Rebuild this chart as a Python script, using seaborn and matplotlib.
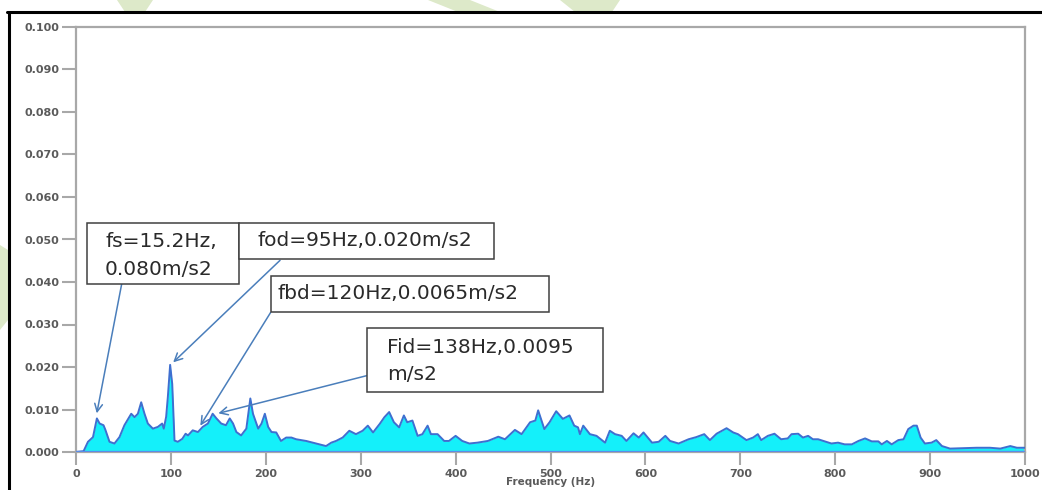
import matplotlib
matplotlib.use("Agg")
import matplotlib.pyplot as plt
import matplotlib.patches as mpatches
from matplotlib.lines import Line2D
from matplotlib.ticker import FormatStrFormatter, MultipleLocator
import seaborn as sns
import pandas as pd

# ── Spectrum (Hz, m/s2) ───────────────────────────────────
freq_low = [0, 8, 12.6, 17.9, 22, 24.9, 29, 31, 35.3, 40.5, 45.8, 51, 58.2, 61.7, 65.2,
            68.7, 72.2, 75.7, 81, 86.2, 90.8, 92.5, 95, 96.8, 99.2, 101.4, 103.8, 107.3,
            112, 115.5, 118, 123, 128.5, 133.5, 139, 144, 148, 153, 158, 162, 165.5, 169,
            174, 179.5, 183.7, 186.5, 192, 195.5, 199]
acc_low = [0, 0.0002, 0.0024, 0.0035, 0.0079, 0.0067, 0.0063, 0.0052, 0.0024, 0.0020,
           0.0035, 0.0063, 0.0090, 0.0082, 0.0090, 0.0117, 0.0090, 0.0067, 0.0055, 0.0059,
           0.0067, 0.0055, 0.0083, 0.0130, 0.0205, 0.0160, 0.0027, 0.0024, 0.0031, 0.0043,
           0.0039, 0.0051, 0.0047, 0.0059, 0.0067, 0.0090, 0.0079, 0.0067, 0.0063, 0.0079,
           0.0067, 0.0047, 0.0039, 0.0055, 0.0126, 0.0090, 0.0055, 0.0067, 0.0090]

freq_mid = [202.5, 206, 211, 216, 221.5, 227, 232, 242.5, 249.5, 256.5, 263.5, 269, 274,
            281, 288, 295, 302, 307.5, 313, 320, 325, 330, 335, 340.5, 345.5, 349, 354.5,
            360, 365, 370.5, 374, 381, 388, 393, 400, 407, 414.5, 423, 434, 445, 452,
            462.5, 469.5, 478.5, 484, 487, 493.5, 499]
acc_mid = [0.0059, 0.0047, 0.0046, 0.0026, 0.0034, 0.0034, 0.0030, 0.0026, 0.0022, 0.0018,
           0.0014, 0.0022, 0.0026, 0.0034, 0.0050, 0.0042, 0.0050, 0.0062, 0.0046, 0.0066,
           0.0082, 0.0094, 0.0070, 0.0058, 0.0086, 0.0070, 0.0074, 0.0038, 0.0042, 0.0062,
           0.0042, 0.0042, 0.0026, 0.0026, 0.0038, 0.0026, 0.0020, 0.0022, 0.0026, 0.0036,
           0.0030, 0.0052, 0.0042, 0.0070, 0.0074, 0.0098, 0.0054, 0.0070]

freq_high = [506, 513, 520, 525, 529, 531, 534.5, 541.5, 548.5, 557.5, 562.5, 568, 575, 580,
             587.5, 593, 598, 607, 614, 621, 626, 635, 645.5, 653.5, 662, 668, 675, 685.5,
             692.5, 697.5, 706.5, 713.5, 718.5, 722, 729, 736, 743, 750, 754, 761, 766,
             771.5, 776.5, 782, 789, 796, 803, 810, 817.5, 824.5, 831.5, 838.5, 845.5, 849,
             854.5, 859.5, 866.5, 872, 877, 882.5, 886, 890, 894.5, 901.5, 906.5, 912.5,
             921, 935, 949, 963, 974, 984.5, 991.5, 1000]
acc_high = [0.0096, 0.0078, 0.0086, 0.0062, 0.0058, 0.0042, 0.0062, 0.0042, 0.0038, 0.0022,
            0.0050, 0.0042, 0.0038, 0.0026, 0.0044, 0.0034, 0.0046, 0.0022, 0.0024, 0.0038,
            0.0026, 0.0020, 0.0030, 0.0035, 0.0042, 0.0028, 0.0043, 0.0056, 0.0046, 0.0042,
            0.0028, 0.0034, 0.0042, 0.0028, 0.0038, 0.0043, 0.0030, 0.0032, 0.0042, 0.0043,
            0.0034, 0.0038, 0.0030, 0.0030, 0.0025, 0.0020, 0.0022, 0.0018, 0.0018, 0.0026,
            0.0032, 0.0025, 0.0025, 0.0018, 0.0026, 0.0018, 0.0028, 0.0030, 0.0054, 0.0062,
            0.0062, 0.0034, 0.0020, 0.0022, 0.0028, 0.0014, 0.0008, 0.0009, 0.0010, 0.0010,
            0.0008, 0.0014, 0.0010, 0.0010]

# annotation texts and the points their arrows hit
note_lines = [["fs=15.2Hz,", "0.080m/s2"],
              ["fod=95Hz,0.020m/s2"],
              ["fbd=120Hz,0.0065m/s2"],
              ["Fid=138Hz,0.0095", "m/s2"]]
note_target_hz = [21.9, 102.4, 131, 150]
note_target_acc = [0.0091, 0.0211, 0.0062, 0.0091]

df = pd.DataFrame({"Frequency": freq_low + freq_mid + freq_high,
                   "Accel": acc_low + acc_mid + acc_high})

# ── Style ────────────────────────────────────────────────
sns.set_theme(style="white")
plt.rcParams["font.family"] = ["DejaVu Sans"]

W, H = 1042, 490
fig = plt.figure(figsize=(W / 100, H / 100), dpi=100)
fig.patch.set_facecolor("white")


def fx(x):
    return x / W


def fy(y):
    return 1 - y / H


# green watermark bits peeking out around the screenshot
wm = "#dde9c9"
for poly in [[(117, 0), (153, 0), (145, 12), (125, 12)],
             [(428, 0), (470, 0), (500, 12), (458, 12)],
             [(560, 0), (620, 0), (612, 12), (575, 12)],
             [(0, 245), (8, 250), (8, 320), (0, 330)]]:
    fig.patches.append(mpatches.Polygon([(fx(a), fy(b)) for a, b in poly], closed=True,
                                        transform=fig.transFigure, facecolor=wm,
                                        edgecolor="none", zorder=0))

# black frame of the screenshot
fig.add_artist(Line2D([fx(7), 1], [fy(12), fy(12)], color="black", lw=2.2,
                      transform=fig.transFigure))
fig.add_artist(Line2D([fx(8.5), fx(8.5)], [fy(12), 0], color="black", lw=2.2,
                      transform=fig.transFigure))

ax = fig.add_axes([fx(76), fy(452), fx(1025) - fx(76), fy(27) - fy(452)])

# ── Spectrum ─────────────────────────────────────────────
ax.fill_between(df["Frequency"], df["Accel"], 0, color="#14f0fa", lw=0, zorder=2)
sns.lineplot(data=df, x="Frequency", y="Accel", ax=ax, color="#3f6fd0", lw=1.4,
             zorder=3)
ax.axhline(0, color="#5b8ce8", lw=1.6, zorder=3)

ax.set_xlim(0, 1000)
ax.set_ylim(0, 0.100)
ax.xaxis.set_major_locator(MultipleLocator(100))
ax.yaxis.set_major_locator(MultipleLocator(0.010))
ax.yaxis.set_major_formatter(FormatStrFormatter("%.3f"))

gray = "#a8a8a8"
for side in ["left", "top", "right", "bottom"]:
    ax.spines[side].set_color(gray)
    ax.spines[side].set_linewidth(1.6)
ax.tick_params(axis="both", direction="out", length=9, width=1.5, color=gray,
               labelsize=8, labelcolor="#5a5a5a", pad=3, left=True, bottom=True)
ax.tick_params(axis="y", length=10, pad=2)
for lab in ax.get_xticklabels() + ax.get_yticklabels():
    lab.set_fontweight("bold")
ax.set_xlabel("Frequency (Hz)", fontsize=7.5, fontweight="bold", color="#5a5a5a",
              labelpad=-1)
ax.set_ylabel("")

# ── Annotation boxes ─────────────────────────────────────
# box corners (Hz, m/s2): x0, x1, y_bottom, y_top
boxes = [(11.6, 172, 0.0396, 0.0538),
         (172, 440, 0.0455, 0.0538),
         (205, 498, 0.0330, 0.0415),
         (307, 555, 0.0142, 0.0291)]
text_x = [30.6, 191, 212, 328]
text_y = [[0.0496, 0.0429], [0.0498], [0.0374], [0.0245, 0.0182]]
arrow_from = [(48.2, 0.0396), (215, 0.0451), (205, 0.0328), (307, 0.0180)]

for i, (x0, x1, y0, y1) in enumerate(boxes):
    ax.add_patch(mpatches.Rectangle((x0, y0), x1 - x0, y1 - y0, facecolor="white",
                                    edgecolor="#404040", lw=1.1, zorder=5))
    for line, ty in zip(note_lines[i], text_y[i]):
        ax.text(text_x[i], ty, line, fontsize=14.5, color="#2a2a2a", va="center",
                ha="left", zorder=6)
    ax.annotate("", xy=(note_target_hz[i], note_target_acc[i]), xytext=arrow_from[i],
                arrowprops=dict(arrowstyle="->", color="#4a7ebb", lw=1.1,
                                mutation_scale=14, shrinkA=0, shrinkB=0),
                zorder=4)

plt.savefig("out.png", dpi=100)
plt.close()
print("saved out.png")
